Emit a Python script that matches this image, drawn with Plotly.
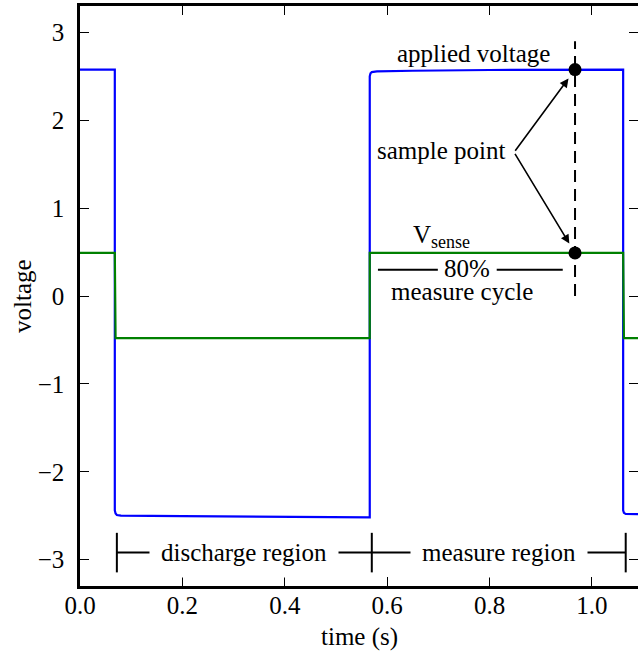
import plotly.graph_objects as go

# ---- data ----
t_applied = [0.0, 0.068, 0.068, 0.0695, 0.072, 0.08, 0.20, 0.40, 0.566,
             0.566, 0.5675, 0.570, 0.58, 0.65, 0.80, 1.061, 1.061, 1.0625, 1.066, 1.09]
v_applied = [2.576, 2.576, -2.44, -2.475, -2.492, -2.50, -2.505, -2.512, -2.52,
             2.50, 2.535, 2.548, 2.555, 2.563, 2.572, 2.576, -2.44, -2.468, -2.48, -2.482]

t_sense = [0.0, 0.068, 0.0695, 0.566, 0.566, 1.061, 1.0625, 1.09]
v_sense = [0.49, 0.49, -0.48, -0.48, 0.49, 0.49, -0.48, -0.48]

sample_t = 0.967
sample_v = [2.576, 0.49]
dash_y = [0.0, 2.9]

region_bounds = [0.072, 0.570, 1.066]
region_labels = ["discharge region", "measure region"]
region_y = -2.92
bracket_half = 0.225

cycle_start, cycle_end = 0.582, 0.943
cycle_y = 0.30

x_ticks = [0.0, 0.2, 0.4, 0.6, 0.8, 1.0]
y_ticks = [-3, -2, -1, 0, 1, 2, 3]
y_ticktext = ["\u22123", "\u22122", "\u22121", "0", "1", "2", "3"]

FONT = "Liberation Serif"
FS = 25
CYCLE_GAP = (0.699, 0.814)   # gap left in the 80% line for its label

fig = go.Figure()
fig.add_trace(go.Scatter(x=t_applied, y=v_applied, mode="lines",
                         line=dict(color="#0000ff", width=2.2), hoverinfo="skip"))
fig.add_trace(go.Scatter(x=t_sense, y=v_sense, mode="lines",
                         line=dict(color="#008000", width=2.2), hoverinfo="skip"))
fig.add_trace(go.Scatter(x=[sample_t, sample_t], y=dash_y, mode="lines",
                         line=dict(color="black", width=2, dash="12px,7px"), hoverinfo="skip"))
fig.add_trace(go.Scatter(x=[sample_t] * len(sample_v), y=sample_v, mode="markers",
                         marker=dict(color="black", size=13), hoverinfo="skip"))
# dummy trace for the right-hand tick axis
fig.add_trace(go.Scatter(x=[None], y=[None], yaxis="y2", hoverinfo="skip"))

shapes = []
shapes.append(dict(type="line", xref="x", yref="y", x0=region_bounds[0], x1=region_bounds[-1],
                   y0=region_y, y1=region_y, line=dict(color="black", width=2)))
for b in region_bounds:
    shapes.append(dict(type="line", xref="x", yref="y", x0=b, x1=b,
                       y0=region_y - bracket_half, y1=region_y + bracket_half,
                       line=dict(color="black", width=2)))
shapes.append(dict(type="line", xref="x", yref="y", x0=cycle_start, x1=CYCLE_GAP[0],
                   y0=cycle_y, y1=cycle_y, line=dict(color="black", width=2)))
shapes.append(dict(type="line", xref="x", yref="y", x0=CYCLE_GAP[1], x1=cycle_end,
                   y0=cycle_y, y1=cycle_y, line=dict(color="black", width=2)))

txtfont = dict(family=FONT, size=FS, color="black")
ann = []
for i, lab in enumerate(region_labels):
    ann.append(dict(x=(region_bounds[i] + region_bounds[i + 1]) / 2, y=region_y, xref="x", yref="y",
                    text=lab, showarrow=False, bgcolor="white", borderpad=11, font=txtfont))
ann.append(dict(x=(CYCLE_GAP[0] + CYCLE_GAP[1]) / 2, y=cycle_y + 0.01, xref="x", yref="y",
                text="80%", showarrow=False, font=txtfont))
ann.append(dict(x=0.746, y=0.05, xref="x", yref="y", text="measure cycle", showarrow=False,
                font=txtfont))
ann.append(dict(x=0.768, y=2.76, xref="x", yref="y", text="applied voltage", showarrow=False,
                font=txtfont))
ann.append(dict(x=0.707, y=0.68, xref="x", yref="y",
                text="V<sub><span style='font-size:18px'>sense</span></sub>", showarrow=False,
                font=txtfont))
ann.append(dict(x=0.836, y=1.66, xref="x", yref="y", text="sample point", showarrow=False,
                xanchor="right", font=txtfont))
for v in sample_v:
    ann.append(dict(x=sample_t, y=v, xref="x", yref="y", ax=0.848, ay=1.635, axref="x", ayref="y",
                    text="", showarrow=True, arrowhead=2, arrowsize=1.1, arrowwidth=1.6,
                    arrowcolor="black", standoff=11))
ann.append(dict(x=-0.104, y=0.5, xref="paper", yref="paper", text="voltage", textangle=-90,
                xanchor="center", yanchor="middle", showarrow=False, font=txtfont))
ann.append(dict(x=0.5, y=-0.088, xref="paper", yref="paper", text="time (s)",
                xanchor="center", yanchor="middle", showarrow=False, font=txtfont))

fig.update_layout(
    width=638, height=657,
    margin=dict(l=80, r=0, t=6, b=71),
    paper_bgcolor="white", plot_bgcolor="white",
    showlegend=False,
    shapes=shapes, annotations=ann,
    font=txtfont,
    xaxis=dict(range=[0, 1.09], tickvals=x_ticks, tickformat=".1f", ticks="inside",
               ticklen=9, tickwidth=1.2, tickcolor="black", showline=True, linewidth=2.5,
               linecolor="black", mirror="ticks", showgrid=False, zeroline=False,
               tickfont=txtfont, ticklabelstandoff=-5),
    yaxis=dict(range=[-3.3, 3.3], tickvals=y_ticks, ticktext=y_ticktext, ticks="inside",
               ticklen=9, tickwidth=1.2, tickcolor="black", showline=True, linewidth=2.5,
               linecolor="black", showgrid=False, zeroline=False,
               tickfont=txtfont, ticklabelstandoff=8),
    yaxis2=dict(range=[-3.3, 3.3], tickvals=y_ticks, overlaying="y", side="right", anchor="x",
                ticks="inside", ticklen=9, tickwidth=1.2, tickcolor="black",
                showticklabels=False, showline=False, showgrid=False, zeroline=False),
)

fig.write_html("out.html", config={"displayModeBar": False},
               post_script="document.body.style.margin='0';document.body.style.overflow='hidden';")
